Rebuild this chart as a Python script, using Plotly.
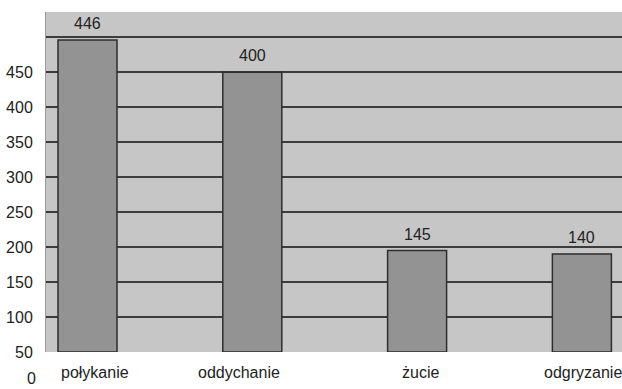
import plotly.graph_objects as go

# Activities and their counts
categories = ["połykanie", "oddychanie", "żucie", "odgryzanie"]
values = [446, 400, 145, 140]

# Axis grid values and the labels printed beside them
grid_values = [0, 50, 100, 150, 200, 250, 300, 350, 400, 450]
y_tick_labels = ["0", "50", "100", "150", "200", "250", "300", "350", "400", "450"]

FONT = "Liberation Sans, Arial, sans-serif"
TEXT_COLOR = "#222222"
FONT_SIZE = 16
Y_TOP = 486


def paper_y(v):
    """Convert a value on the y scale into paper coordinates (range starts at 0)."""
    return v / Y_TOP


fig = go.Figure()

fig.add_trace(go.Bar(
    x=categories,
    y=values,
    width=0.358,
    marker=dict(color="#939393", line=dict(color="#2e2e2e", width=1.5)),
    hoverinfo="skip",
))

# Value labels above each bar
for cat, val in zip(categories, values):
    fig.add_annotation(
        x=cat, y=val, text=str(val), showarrow=False,
        xref="x", yref="y", yanchor="bottom", yshift=6,
        font=dict(family=FONT, size=FONT_SIZE, color=TEXT_COLOR),
    )

# Category labels beneath the plot
label_shifts = [7, -13, 3, 1]
for cat, dx in zip(categories, label_shifts):
    fig.add_annotation(
        x=cat, y=paper_y(-30), text=cat, showarrow=False,
        xref="x", yref="paper", yanchor="middle", xshift=dx,
        font=dict(family=FONT, size=FONT_SIZE, color=TEXT_COLOR),
    )

# The first scale label sits below the baseline
fig.add_annotation(
    x=0, xref="paper", xanchor="right", xshift=-9,
    y=paper_y(-52), yref="paper", yanchor="bottom", borderpad=0,
    text=y_tick_labels[0], showarrow=False,
    font=dict(family=FONT, size=FONT_SIZE, color=TEXT_COLOR),
)

fig.update_layout(
    width=622, height=389,
    margin=dict(l=46, r=0, t=12, b=37),
    paper_bgcolor="white",
    plot_bgcolor="#c6c6c6",
    showlegend=False,
    font=dict(family=FONT, size=FONT_SIZE, color=TEXT_COLOR),
    xaxis=dict(
        type="category",
        range=[-0.2518, 3.2433],
        showticklabels=False,
        showgrid=False,
        zeroline=False,
        showline=False,
        fixedrange=True,
    ),
    yaxis=dict(
        range=[0, Y_TOP],
        tickmode="array",
        tickvals=grid_values,
        ticktext=y_tick_labels[1:] + [""],
        showgrid=True,
        gridcolor="#3c3c3c",
        gridwidth=1.5,
        zeroline=False,
        showline=True,
        linecolor="#9a9a9a",
        linewidth=1,
        ticks="",
        ticklabelstandoff=9,
        tickfont=dict(family=FONT, size=FONT_SIZE, color=TEXT_COLOR),
        fixedrange=True,
    ),
)

fig.write_html("out.html")
